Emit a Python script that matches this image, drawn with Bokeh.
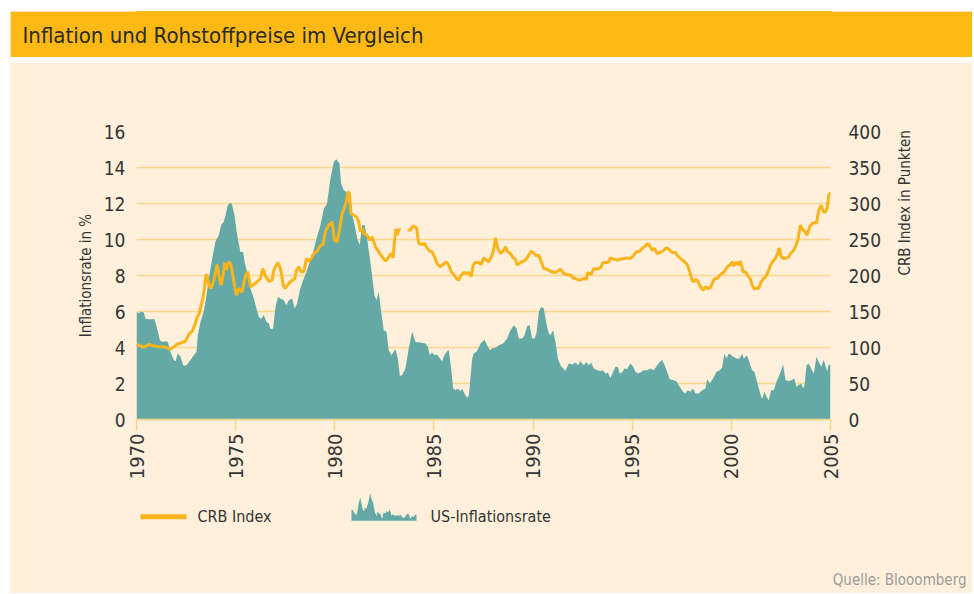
import math
import numpy as np
from bokeh.plotting import figure
from bokeh.models import Range1d, LinearAxis, FixedTicker, Label, ColumnDataSource, Title, Spacer
from bokeh.layouts import column
from bokeh.embed import file_html
from bokeh.resources import INLINE

# ---------------- data ----------------
infl_year = [1970.00, 1970.12, 1970.20, 1970.37, 1970.45, 1970.62, 1970.79, 1970.90, 1971.04, 1971.18,
             1971.29, 1971.46, 1971.58, 1971.71, 1971.88, 1971.97, 1972.08, 1972.22, 1972.35, 1972.47,
             1972.59, 1972.72, 1972.89, 1973.03, 1973.09, 1973.23, 1973.39, 1973.53, 1973.65, 1973.82,
             1973.98, 1974.15, 1974.27, 1974.40, 1974.49, 1974.60, 1974.74, 1974.82, 1974.94, 1975.08,
             1975.24, 1975.38, 1975.45, 1975.58, 1975.75, 1975.92, 1976.05, 1976.17, 1976.29, 1976.42,
             1976.55, 1976.67, 1976.76, 1976.89, 1977.01, 1977.13, 1977.26, 1977.43, 1977.56, 1977.68,
             1977.85, 1977.97, 1978.10, 1978.24, 1978.40, 1978.57, 1978.74, 1978.91, 1979.08, 1979.28,
             1979.45, 1979.61, 1979.78, 1979.95, 1980.07, 1980.24, 1980.32, 1980.45, 1980.59, 1980.76,
             1980.87, 1981.00, 1981.13, 1981.26, 1981.38, 1981.50, 1981.63, 1981.77, 1981.88, 1982.00,
             1982.10, 1982.22, 1982.34, 1982.47, 1982.61, 1982.72, 1982.86, 1983.06, 1983.18, 1983.28,
             1983.40, 1983.56, 1983.73, 1983.90, 1984.07, 1984.32, 1984.57, 1984.69, 1984.79, 1984.91,
             1985.03, 1985.16, 1985.30, 1985.41, 1985.53, 1985.67, 1985.75, 1985.87, 1985.97, 1986.09,
             1986.20, 1986.34, 1986.42, 1986.54, 1986.67, 1986.76, 1986.84, 1986.93, 1987.01, 1987.18,
             1987.35, 1987.55, 1987.68, 1987.82, 1987.93, 1988.10, 1988.27, 1988.49, 1988.69, 1988.86,
             1989.03, 1989.16, 1989.28, 1989.45, 1989.58, 1989.70, 1989.83, 1989.95, 1990.07, 1990.17,
             1990.29, 1990.41, 1990.54, 1990.67, 1990.79, 1990.88, 1991.01, 1991.13, 1991.25, 1991.38,
             1991.52, 1991.63, 1991.80, 1991.97, 1992.14, 1992.26, 1992.39, 1992.56, 1992.69, 1992.81,
             1992.93, 1993.06, 1993.23, 1993.40, 1993.53, 1993.65, 1993.77, 1993.90, 1994.04, 1994.15,
             1994.27, 1994.37, 1994.49, 1994.61, 1994.74, 1994.91, 1995.05, 1995.16, 1995.28, 1995.41,
             1995.58, 1995.75, 1995.92, 1996.09, 1996.26, 1996.39, 1996.51, 1996.63, 1996.76, 1996.89,
             1997.06, 1997.23, 1997.40, 1997.57, 1997.68, 1997.80, 1997.93, 1998.07, 1998.19, 1998.36,
             1998.53, 1998.69, 1998.78, 1998.91, 1999.08, 1999.25, 1999.42, 1999.53, 1999.65, 1999.75,
             1999.87, 1999.95, 2000.09, 2000.26, 2000.42, 2000.54, 2000.63, 2000.79, 2000.93, 2001.05,
             2001.16, 2001.30, 2001.43, 2001.55, 2001.67, 2001.77, 2001.89, 2002.00, 2002.14, 2002.27,
             2002.39, 2002.51, 2002.61, 2002.73, 2002.90, 2003.06, 2003.18, 2003.28, 2003.40, 2003.52,
             2003.62, 2003.69, 2003.79, 2003.90, 2004.02, 2004.16, 2004.29, 2004.41, 2004.53, 2004.66,
             2004.74, 2004.83, 2004.91, 2005.00]
infl_rate = [5.98, 5.90, 5.98, 5.94, 5.60, 5.57, 5.57, 5.60, 5.06, 4.40,
             4.31, 4.35, 4.31, 3.76, 3.30, 3.24, 3.67, 3.48, 3.02, 2.98,
             3.11, 3.30, 3.57, 3.76, 4.69, 5.43, 5.98, 6.90, 7.83, 8.94,
             9.87, 10.24, 10.80, 10.98, 11.35, 11.90, 12.04, 11.94, 11.35, 10.24,
             9.31, 9.31, 8.76, 8.20, 7.28, 6.72, 6.17, 5.70, 5.60, 5.80,
             5.43, 5.33, 5.02, 5.06, 6.26, 6.81, 6.72, 6.63, 6.35, 6.63,
             6.72, 6.17, 6.44, 7.19, 7.74, 8.20, 8.76, 9.31, 10.06, 10.80,
             11.72, 12.00, 13.39, 14.31, 14.46, 14.22, 13.11, 12.74, 12.65, 11.72,
             11.44, 10.80, 10.06, 9.69, 10.80, 10.80, 10.06, 8.94, 8.02, 6.90,
             6.63, 7.09, 5.98, 4.96, 4.87, 3.85, 3.57, 3.91, 3.39, 2.43,
             2.46, 2.83, 3.94, 4.87, 4.31, 4.28, 4.22, 4.04, 3.57, 3.72,
             3.57, 3.61, 3.39, 3.24, 3.57, 3.80, 3.85, 2.83, 1.72, 1.63,
             1.72, 1.57, 1.72, 1.44, 1.20, 1.35, 2.28, 3.39, 3.67, 3.80,
             4.22, 4.44, 4.13, 3.85, 3.94, 3.98, 4.13, 4.22, 4.50, 4.96,
             5.24, 5.09, 4.50, 4.50, 4.69, 5.20, 5.24, 4.50, 4.50, 4.78,
             5.98, 6.26, 6.17, 5.33, 4.78, 4.69, 4.96, 4.31, 3.39, 3.02,
             2.83, 2.69, 3.11, 3.06, 3.17, 3.02, 3.24, 3.02, 3.20, 3.02,
             3.17, 2.83, 2.74, 2.69, 2.74, 2.56, 2.61, 2.31, 2.65, 2.93,
             2.93, 2.56, 2.61, 2.83, 2.80, 3.11, 2.93, 2.65, 2.56, 2.61,
             2.74, 2.74, 2.83, 2.74, 3.02, 3.20, 3.30, 3.02, 2.65, 2.24,
             2.19, 2.13, 1.81, 1.54, 1.44, 1.63, 1.54, 1.72, 1.44, 1.44,
             1.63, 1.72, 2.24, 2.00, 2.28, 2.65, 2.74, 2.87, 3.67, 3.39,
             3.67, 3.61, 3.48, 3.39, 3.39, 3.67, 3.39, 3.57, 3.11, 2.74,
             2.65, 2.09, 1.54, 1.13, 1.54, 1.26, 1.07, 1.63, 1.63, 2.09,
             2.37, 2.74, 3.06, 2.19, 2.13, 2.19, 2.28, 1.81, 1.91, 2.00,
             1.72, 1.91, 3.02, 3.11, 2.83, 2.56, 3.48, 3.20, 2.93, 3.30,
             3.02, 2.65, 3.06, 3.02]

NAN = float("nan")
crb_year = [1970.00, 1970.12, 1970.37, 1970.62, 1970.87, 1971.13, 1971.38, 1971.55, 1971.71, 1971.88,
            1972.05, 1972.30, 1972.47, 1972.64, 1972.81, 1972.97, 1973.06, 1973.14, 1973.26, 1973.36,
            1973.43, 1973.50, 1973.56, 1973.65, 1973.76, 1973.90, 1974.07, 1974.15, 1974.27, 1974.37,
            1974.45, 1974.54, 1974.60, 1974.67, 1974.77, 1974.91, 1975.04, 1975.16, 1975.33, 1975.50,
            1975.61, 1975.75, 1975.92, 1976.08, 1976.25, 1976.37, 1976.50, 1976.67, 1976.84, 1976.92,
            1977.13, 1977.26, 1977.40, 1977.51, 1977.68, 1977.85, 1977.97, 1978.07, 1978.19, 1978.30,
            1978.44, 1978.57, 1978.69, 1978.81, 1978.94, 1979.11, 1979.28, 1979.41, 1979.53, 1979.70,
            1979.87, 1979.98, 1980.12, 1980.25, 1980.37, 1980.54, 1980.67, 1980.74, 1980.82, 1980.96,
            1981.09, 1981.21, 1981.29, 1981.38, 1981.46, 1981.63, 1981.77, 1981.88, 1982.05, 1982.22,
            1982.39, 1982.56, 1982.72, 1982.84, 1982.94, 1983.01, 1983.08, 1983.14, 1983.24, 1983.31,
            1983.50, 1983.68, 1983.82, 1983.90, 1983.95, 1984.12, 1984.24, 1984.35, 1984.52, 1984.66,
            1984.79, 1984.91, 1985.03, 1985.16, 1985.30, 1985.46, 1985.63, 1985.75, 1985.87, 1986.00,
            1986.14, 1986.25, 1986.37, 1986.51, 1986.64, 1986.76, 1986.88, 1986.98, 1987.09, 1987.26,
            1987.38, 1987.51, 1987.65, 1987.77, 1987.93, 1988.02, 1988.10, 1988.22, 1988.36, 1988.49,
            1988.61, 1988.72, 1988.86, 1988.99, 1989.11, 1989.20, 1989.36, 1989.61, 1989.73, 1989.90,
            1990.04, 1990.17, 1990.29, 1990.41, 1990.54, 1990.71, 1990.88, 1991.05, 1991.21, 1991.38,
            1991.55, 1991.72, 1991.89, 1992.02, 1992.19, 1992.36, 1992.56, 1992.69, 1992.76, 1992.93,
            1993.06, 1993.23, 1993.40, 1993.53, 1993.70, 1993.82, 1993.90, 1994.07, 1994.24, 1994.41,
            1994.57, 1994.74, 1994.91, 1995.08, 1995.21, 1995.38, 1995.50, 1995.67, 1995.78, 1995.92,
            1996.00, 1996.12, 1996.26, 1996.42, 1996.59, 1996.72, 1996.84, 1997.01, 1997.18, 1997.30,
            1997.43, 1997.60, 1997.77, 1997.90, 1998.02, 1998.10, 1998.19, 1998.31, 1998.44, 1998.58,
            1998.69, 1998.81, 1998.95, 1999.03, 1999.15, 1999.28, 1999.42, 1999.53, 1999.65, 1999.79,
            1999.92, 2000.04, 2000.12, 2000.26, 2000.34, 2000.46, 2000.59, 2000.71, 2000.83, 2000.96,
            2001.05, 2001.16, 2001.27, 2001.38, 2001.50, 2001.60, 2001.72, 2001.84, 2001.97, 2002.11,
            2002.22, 2002.34, 2002.39, 2002.44, 2002.51, 2002.64, 2002.81, 2002.90, 2002.98, 2003.11,
            2003.23, 2003.35, 2003.48, 2003.57, 2003.69, 2003.82, 2003.95, 2004.07, 2004.19, 2004.29,
            2004.41, 2004.53, 2004.63, 2004.74, 2004.83, 2004.91, 2005.00]
crb_index = [104.0, 103.2, 100.0, 104.2, 102.3, 100.9, 100.9, 99.5, 97.7, 100.9,
             104.6, 106.9, 108.8, 118.0, 122.7, 133.3, 142.6, 144.9, 158.8, 170.4,
             182.0, 200.5, 200.5, 186.6, 182.0, 193.5, 215.3, 200.5, 186.6, 200.5,
             218.0, 207.4, 214.4, 219.0, 214.4, 191.2, 172.7, 182.0, 177.3, 200.5,
             205.1, 184.3, 187.5, 191.2, 195.8, 209.7, 199.5, 192.1, 193.5, 207.4,
             218.0, 209.7, 186.6, 182.0, 188.9, 193.5, 194.9, 207.4, 212.0, 205.1,
             205.1, 223.6, 219.9, 223.6, 230.6, 233.8, 242.1, 243.1, 261.6, 269.9,
             274.5, 249.0, 246.8, 265.3, 286.1, 297.7, 316.2, 313.9, 286.1, 283.8,
             281.5, 274.5, 260.6, 265.3, 258.3, 256.0, 249.0, 253.7, 239.8, 232.9,
             225.9, 219.9, 225.9, 230.6, 224.5, 249.0, 264.4, 256.0, 264.4, 263.0,
             NAN, 263.4, 263.0, 267.0, 269.0, 266.2, 244.4, 243.1, 244.4, 238.4,
             233.8, 232.9, 225.9, 216.7, 212.0, 215.3, 219.0, 214.4, 205.1, 201.4,
             195.8, 193.5, 200.5, 204.2, 202.8, 204.2, 198.1, 214.4, 218.0, 218.0,
             215.3, 224.5, 221.3, 219.0, 228.2, 236.6, 252.3, 237.5, 230.6, 233.8,
             239.8, 232.9, 230.6, 224.5, 222.7, 214.4, 218.0, 221.3, 225.9, 233.8,
             230.6, 227.3, 228.2, 219.0, 209.7, 208.8, 206.0, 204.2, 205.1, 208.8,
             202.8, 201.4, 200.5, 196.8, 194.9, 193.5, 195.8, 194.9, 204.2, 201.4,
             209.7, 208.8, 210.6, 218.0, 218.0, 219.0, 224.5, 222.7, 221.3, 222.7,
             223.6, 224.5, 223.6, 228.2, 232.9, 233.8, 237.5, 241.2, 244.4, 239.8,
             235.2, 237.5, 230.6, 231.9, 235.2, 238.4, 236.6, 231.9, 231.9, 227.3,
             223.6, 219.9, 215.3, 205.1, 193.5, 191.2, 194.9, 192.1, 184.3, 179.6,
             184.3, 182.0, 182.9, 188.9, 195.8, 195.8, 200.5, 202.8, 205.1, 212.0,
             214.4, 219.0, 213.4, 219.0, 214.4, 219.9, 205.1, 205.1, 199.5, 194.9,
             186.6, 181.0, 182.9, 182.0, 191.2, 194.9, 198.1, 204.2, 214.4, 219.9,
             223.6, 230.6, 237.5, 236.6, 225.9, 223.6, 224.5, 225.9, 230.6, 233.8,
             239.8, 249.0, 269.9, 264.4, 261.6, 256.0, 267.6, 272.2, 273.6, 272.2,
             290.7, 297.7, 289.4, 287.5, 293.1, 311.6, 315.0]

year_ticks = [1970, 1975, 1980, 1985, 1990, 1995, 2000, 2005]
infl_ticks = [0, 2, 4, 6, 8, 10, 12, 14, 16]
crb_ticks = [0, 50, 100, 150, 200, 250, 300, 350, 400]

TITLE = "Inflation und Rohstoffpreise im Vergleich"
LEFT_LABEL = "Inflationsrate in %"
RIGHT_LABEL = "CRB Index in Punkten"
LEG_CRB = "CRB Index"
LEG_INFL = "US-Inflationsrate"
SOURCE = "Quelle: Blooomberg"

# ---------------- styles ----------------
FONT = "Liberation Sans Narrow, DejaVu Sans Condensed, Roboto Condensed, Arial Narrow, sans-serif"
ORANGE = "#FDB913"
LINE_ORANGE = "#FBB41A"
CREAM = "#FEF0DA"
TEAL = "#64A9A6"
GRID = "#FDD690"
TXT = "#353535"

W = 962
ML, MR = 126, 142          # identical side borders for every panel -> aligned frames
FRAME_L = 136              # page x of the frame's left edge
FRAME_R = FRAME_L + (W - ML - MR)

# ---------------- title bar ----------------
t = figure(width=W, height=46, x_range=Range1d(0, 1), y_range=Range1d(0, 1),
           x_axis_type=None, y_axis_type=None, toolbar_location=None, output_backend="svg",
           min_border_left=ML, min_border_right=MR, min_border_top=0, min_border_bottom=0,
           background_fill_color=ORANGE, border_fill_color=ORANGE,
           outline_line_color=ORANGE, outline_line_width=2)
t.add_layout(Title(text=TITLE, align="left", offset=22 - FRAME_L, vertical_align="middle",
                   standoff=17, text_font=FONT, text_font_size="22px", text_font_style="normal",
                   text_color="#2a2a2a"), "below")

# ---------------- main chart ----------------
MT, MB = 68, 71
H = 427
p = figure(width=W, height=H, x_range=Range1d(1970, 2005), y_range=Range1d(0, 16),
           toolbar_location=None, output_backend="svg",
           min_border_left=ML, min_border_right=MR, min_border_top=MT, min_border_bottom=MB,
           background_fill_color=CREAM, border_fill_color=CREAM, outline_line_color=None)
p.extra_y_ranges = {"crb": Range1d(0, 400)}

src_i = ColumnDataSource(dict(x=infl_year, y=infl_rate))
src_c = ColumnDataSource(dict(x=crb_year, y=np.array(crb_index, dtype=float)))
p.varea(x="x", y1=0, y2="y", source=src_i, fill_color=TEAL)
p.line(x="x", y="y", source=src_c, y_range_name="crb", line_color=LINE_ORANGE, line_width=3)

p.xgrid.grid_line_color = None
p.ygrid.ticker = FixedTicker(ticks=infl_ticks)
p.ygrid.grid_line_color = GRID
p.ygrid.grid_line_width = 1.4

ya = p.yaxis[0]
ya.ticker = FixedTicker(ticks=infl_ticks)
ya.axis_line_color = None
ya.major_tick_line_color = None
ya.minor_tick_line_color = None
ya.major_label_text_font = FONT
ya.major_label_text_font_size = "19px"
ya.major_label_text_color = TXT
ya.major_label_standoff = 5
ya.axis_label = LEFT_LABEL
ya.axis_label_text_font = FONT
ya.axis_label_text_font_size = "15px"
ya.axis_label_text_font_style = "normal"
ya.axis_label_text_color = TXT
ya.axis_label_standoff = 6

xa = p.xaxis[0]
xa.ticker = FixedTicker(ticks=year_ticks)
xa.major_label_orientation = math.pi / 2
xa.axis_line_color = GRID
xa.axis_line_width = 1.5
xa.major_tick_line_color = GRID
xa.major_tick_line_width = 1.5
xa.major_tick_in = 0
xa.major_tick_out = 11
xa.minor_tick_line_color = None
xa.major_label_standoff = 3
xa.major_label_text_font = FONT
xa.major_label_text_font_size = "20px"
xa.major_label_text_color = TXT

ra = LinearAxis(y_range_name="crb", ticker=FixedTicker(ticks=crb_ticks))
ra.axis_line_color = None
ra.major_tick_line_color = None
ra.minor_tick_line_color = None
ra.major_label_text_font = FONT
ra.major_label_text_font_size = "19px"
ra.major_label_text_color = TXT
ra.major_label_standoff = 12
ra.axis_label = RIGHT_LABEL
ra.axis_label_text_font = FONT
ra.axis_label_text_font_size = "15px"
ra.axis_label_text_font_style = "normal"
ra.axis_label_text_color = TXT
ra.axis_label_standoff = 21
if "axis_label_orientation" in LinearAxis.properties():
    ra.axis_label_orientation = math.pi / 2
p.add_layout(ra, "right")

# ---------------- legend + source ----------------
LH = 103
FH = 77  # frame height of the legend panel (title panel below it)
lg = figure(width=W, height=LH, x_range=Range1d(FRAME_L, FRAME_R), y_range=Range1d(FH, 0),
            x_axis_type=None, y_axis_type=None, toolbar_location=None, output_backend="svg",
            min_border_left=ML, min_border_right=MR, min_border_top=0, min_border_bottom=LH - FH,
            background_fill_color=CREAM, border_fill_color=CREAM,
            outline_line_color=CREAM, outline_line_width=3)
lg.line(x=[140, 186], y=[27, 27], line_color=LINE_ORANGE, line_width=5)
lg.add_layout(Label(x=197, y=27, text=LEG_CRB, text_font=FONT, text_font_size="16px",
                    text_color=TXT, text_baseline="middle"))

# mini area icon drawn from the inflation series through its own ranges
sx = 65 / 35.0
ax0 = 1970 - (351 - FRAME_L) / sx
lg.extra_x_ranges = {"icon": Range1d(ax0, ax0 + (FRAME_R - FRAME_L) / sx)}
sy = 28 / max(infl_rate)
d = 31 / sy
lg.extra_y_ranges = {"icon": Range1d(d - FH / sy, d)}
lg.varea(x="x", y1=0, y2="y", source=src_i, fill_color=TEAL,
         x_range_name="icon", y_range_name="icon")
lg.add_layout(Label(x=430, y=27, text=LEG_INFL, text_font=FONT, text_font_size="16px",
                    text_color=TXT, text_baseline="middle"))
lg.add_layout(Title(text=SOURCE, align="right", offset=FRAME_R - 966, vertical_align="middle",
                    standoff=8, text_font=FONT, text_font_size="15px", text_font_style="normal",
                    text_color="#9C9C9C"), "below")

gap = Spacer(width=W, height=6, styles={"background-color": "white"})
layout = column(t, gap, p, lg, spacing=0, margin=(11, 0, 0, 10),
                styles={"background-color": CREAM})
open("out.html", "w").write(file_html(layout, INLINE))
